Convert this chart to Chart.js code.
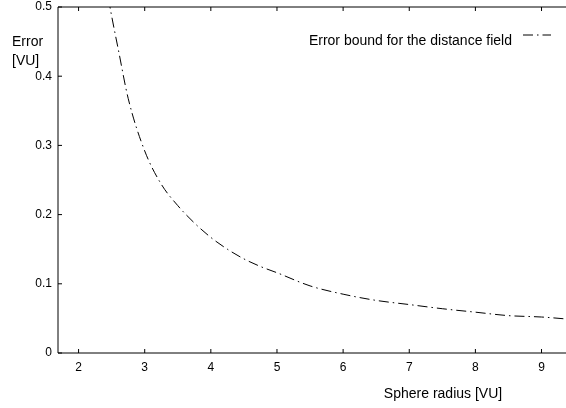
<!DOCTYPE html>
<html>
<head>
<meta charset="utf-8">
<style>
html,body{margin:0;padding:0;background:#fff;}
#wrap{width:566px;height:408px;position:relative;}
</style>
<script src="https://cdn.jsdelivr.net/npm/chart.js@4/dist/chart.umd.min.js"></script>
</head>
<body>
<div id="wrap"><canvas id="c" width="566" height="408"></canvas></div>
<script>
// ---- data ----
const radius = [2.4, 2.5, 2.6, 2.75, 3.0, 3.25, 3.5, 3.75, 4.0, 4.25, 4.5, 4.75, 5.0, 5.5, 6.0, 6.5, 7.0, 7.5, 8.0, 8.5, 9.0, 9.4];
const errorBound = [0.54, 0.487, 0.439, 0.368, 0.292, 0.244, 0.213, 0.188, 0.167, 0.150, 0.136, 0.125, 0.116, 0.097, 0.085, 0.076, 0.070, 0.064, 0.059, 0.054, 0.052, 0.049];
const xTicks = [2, 3, 4, 5, 6, 7, 8, 9];
const xTickLabels = ['2', '3', '4', '5', '6', '7', '8', '9'];
const yTicks = [0, 0.1, 0.2, 0.3, 0.4, 0.5];
const yTickLabels = ['0', '0.1', '0.2', '0.3', '0.4', '0.5'];
const seriesLabel = 'Error bound for the distance field';
const xTitle = 'Sphere radius [VU]';
const yTitle = ['Error', '[VU]'];

const FONT = '"Liberation Sans", Arial, Helvetica, sans-serif';
const DASH = [10, 4, 1.5, 4];

const framePlugin = {
  id: 'frame',
  afterDatasetsDraw(chart) {
    const {ctx, chartArea: a, scales: {x, y}} = chart;
    ctx.save();
    ctx.strokeStyle = '#000';
    ctx.lineWidth = 1;
    ctx.setLineDash([]);
    ctx.beginPath();
    ctx.moveTo(a.left, a.top); ctx.lineTo(a.right, a.top);
    ctx.moveTo(a.left, a.top); ctx.lineTo(a.left, a.bottom); ctx.lineTo(a.right, a.bottom);
    xTicks.forEach(v => {
      const px = x.getPixelForValue(v);
      ctx.moveTo(px, a.bottom); ctx.lineTo(px, a.bottom - 4);
      ctx.moveTo(px, a.top); ctx.lineTo(px, a.top + 4);
    });
    yTicks.forEach(v => {
      const py = y.getPixelForValue(v);
      ctx.moveTo(a.left, py); ctx.lineTo(a.left + 4, py);
    });
    ctx.stroke();

    ctx.fillStyle = '#000';
    ctx.font = '14px ' + FONT;
    ctx.textBaseline = 'alphabetic';
    ctx.textAlign = 'left';
    ctx.fillText(yTitle[0], 12, 46);
    ctx.fillText(yTitle[1], 12, 64.5);
    ctx.textAlign = 'center';
    ctx.fillText(xTitle, 443, 398);
    ctx.textAlign = 'right';
    ctx.fillText(seriesLabel, 512, 45);
    ctx.setLineDash(DASH);
    ctx.beginPath();
    ctx.moveTo(523, 35); ctx.lineTo(551, 35);
    ctx.stroke();
    ctx.restore();
  }
};

new Chart(document.getElementById('c').getContext('2d'), {
  type: 'scatter',
  data: {
    datasets: [{
      label: seriesLabel,
      data: radius.map((r, i) => ({x: r, y: errorBound[i]})),
      showLine: true,
      borderColor: '#000',
      borderWidth: 1,
      borderDash: DASH,
      pointRadius: 0,
      cubicInterpolationMode: 'monotone',
      fill: false,
      clip: 0
    }]
  },
  options: {
    responsive: false,
    animation: false,
    devicePixelRatio: 1,
    layout: {padding: {top: 7, left: 0, right: 0, bottom: 0}},
    plugins: {legend: {display: false}, tooltip: {enabled: false}, title: {display: false}},
    scales: {
      x: {
        type: 'linear', min: 1.689, max: 9.37,
        afterBuildTicks(s) { s.ticks = xTicks.map(v => ({value: v})); },
        afterFit(s) { s.height = 55; s.paddingLeft = 0; s.paddingRight = 0; },
        grid: {display: false, drawTicks: false},
        border: {display: false},
        ticks: {font: {family: FONT, size: 12}, color: '#000', padding: 7, maxRotation: 0,
          callback: (v, i) => xTickLabels[i]}
      },
      y: {
        type: 'linear', min: 0, max: 0.5,
        afterBuildTicks(s) { s.ticks = yTicks.map(v => ({value: v})); },
        afterFit(s) { s.width = 58; s.paddingTop = 0; s.paddingBottom = 0; },
        grid: {display: false, drawTicks: false},
        border: {display: false},
        ticks: {font: {family: FONT, size: 12}, color: '#000', padding: 6,
          callback: (v, i) => yTickLabels[i]}
      }
    }
  },
  plugins: [framePlugin]
});
</script>
</body>
</html>
